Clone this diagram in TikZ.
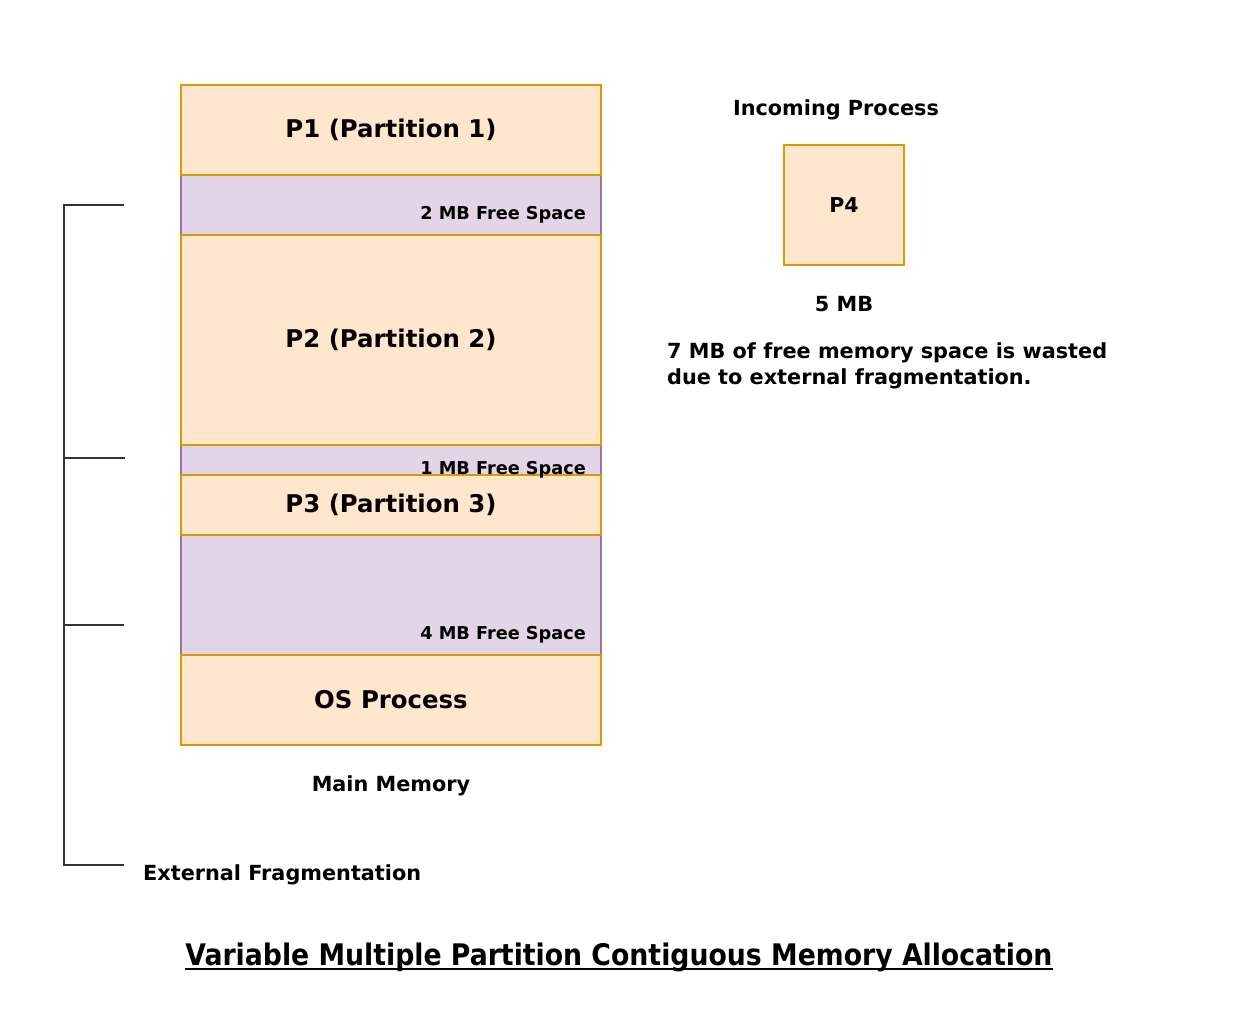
\documentclass[tikz,border=0pt]{standalone}
\usepackage{fontspec}
\setmainfont{DejaVu Sans}
\newfontfamily\titlefont{DejaVu Sans Condensed}
\usetikzlibrary{positioning}
\definecolor{procfill}{HTML}{FFE6CC}
\definecolor{procline}{HTML}{D79B00}
\definecolor{freefill}{HTML}{E1D5E7}
\definecolor{freeline}{HTML}{9673A6}
\definecolor{brack}{HTML}{333333}
\begin{document}
\begin{tikzpicture}[x=1pt,y=-1pt,
  proc/.style={draw=procline,fill=procfill,line width=1.5pt,minimum width=420pt,inner sep=0pt,font=\bfseries\fontsize{24.4}{29}\selectfont},
  free/.style={draw=freeline,fill=freefill,line width=1.5pt,minimum width=420pt,inner sep=0pt},
  small/.style={font=\bfseries\fontsize{17.7}{21}\selectfont,inner sep=0pt},
  lbl/.style={font=\bfseries\fontsize{20.8}{26}\selectfont,inner sep=0pt},
  node distance=30pt]
\fill[white] (0,0) rectangle (1251,1012);
\useasboundingbox (0,0) rectangle (1251,1012);
% main memory
\node[free,minimum height=60pt] (free2) at (391,205){};
\node[free,minimum height=30pt] (free1) at (391,460){};
\node[free,minimum height=120pt] (free4) at (391,595){};
\node[proc,minimum height=90pt] (p1) at (391,130){P1 (Partition 1)};
\node[proc,minimum height=210pt] (p2) at (391,340){P2 (Partition 2)};
\node[proc,minimum height=60pt] (p3) at (391,505){P3 (Partition 3)};
\node[proc,minimum height=90pt] (os) at (391,700){OS Process};
\node[small,anchor=base east] (f2) at (586,219){2 MB Free Space};
\node[small,anchor=base east] (f1) at (586,474){1 MB Free Space};
\node[small,anchor=base east] (f4) at (586,639){4 MB Free Space};
\node[lbl,below=of os] (mm){Main Memory};
% bracket
\coordinate (b1) at (124,205);\coordinate (b2) at (125,458);
\coordinate (b3) at (124,625);\coordinate (b4) at (124,865);
\draw[brack,line width=1.3pt] (b1) -- (64,205) -- (64,865) -- (b4);
\draw[brack,line width=1.3pt] (64,458) -- (b2);
\draw[brack,line width=1.3pt] (64,625) -- (b3);
\node[lbl,anchor=west] (ef) at (143,875){External Fragmentation};
% incoming process
\node[lbl] (inc) at (836,110){Incoming Process};
\node[proc,minimum width=120pt,minimum height=120pt,font=\bfseries\fontsize{20.5}{25}\selectfont] (p4) at (844,205){P4};
\node[lbl,below=of p4] (sz){5 MB};
\node[lbl,align=left,anchor=north west] (note) at (667,342){7 MB of free memory space is wasted\\due to external fragmentation.};
% title
\node[font=\titlefont\bfseries\fontsize{29.7}{36}\selectfont,inner sep=0pt] (title) at (619,957){Variable Multiple Partition Contiguous Memory Allocation};
\draw[line width=2pt] ([yshift=-4pt]title.base west) -- ([yshift=-4pt]title.base east);
\end{tikzpicture}
\end{document}
